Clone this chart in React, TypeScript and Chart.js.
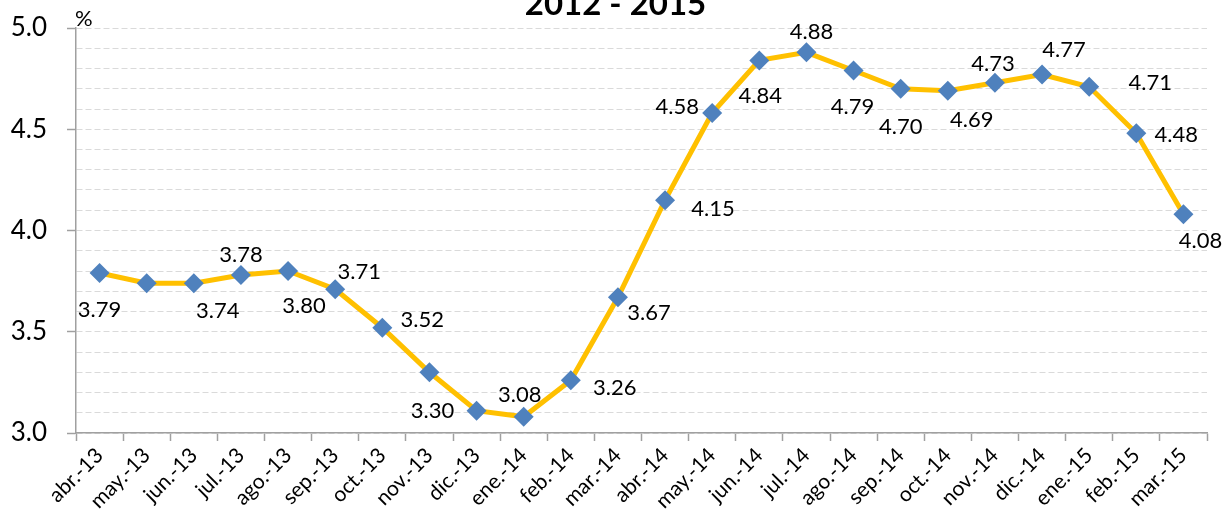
import React, { useEffect, useRef } from "react";
import { Chart, registerables } from "chart.js";

Chart.register(...registerables);

const FONT = "Lato, 'Noto Sans', sans-serif";

const titleText = "2012 - 2015";
const unitText = "%";

const categories = [
  "abr.-13", "may.-13", "jun.-13", "jul.-13", "ago.-13", "sep.-13", "oct.-13", "nov.-13",
  "dic.-13", "ene.-14", "feb.-14", "mar.-14", "abr.-14", "may.-14", "jun.-14", "jul.-14",
  "ago.-14", "sep.-14", "oct.-14", "nov.-14", "dic.-14", "ene.-15", "feb.-15", "mar.-15",
];

const rates = [
  3.79, 3.74, 3.74, 3.78, 3.80, 3.71, 3.52, 3.30,
  3.11, 3.08, 3.26, 3.67, 4.15, 4.58, 4.84, 4.88,
  4.79, 4.70, 4.69, 4.73, 4.77, 4.71, 4.48, 4.08,
];

// which points carry a value label
const labelShown = [
  true, false, true, true, true, true, true, true,
  false, true, true, true, true, true, true, true,
  true, true, true, true, true, true, true, true,
];

// label placement relative to its point (px)
const labelOffsets: [number, number][] = [
  [0, 37], [0, 0], [24, 28], [0, -20], [16, 35], [24, -17], [40, -8], [3, 39],
  [0, 0], [-4, -22], [44, 8], [31, 16], [48, 9], [-35, -6], [1, 36], [5, -20],
  [-1, 36], [0, 38], [24, 29], [-2, -19], [22, -25], [61, -4], [40, 2], [17, 27],
];

const yMin = 3.0;
const yMax = 5.0;
const yMinorStep = 0.1;
const yMajorStep = 0.5;

const isMajor = (v: number) => Math.abs(v / yMajorStep - Math.round(v / yMajorStep)) < 1e-6;

const overlayPlugin = {
  id: "overlay",
  afterDatasetsDraw(chart: any) {
    const ctx = chart.ctx;
    const meta = chart.getDatasetMeta(0);
    ctx.save();
    ctx.fillStyle = "#000";
    ctx.textAlign = "center";
    ctx.textBaseline = "middle";
    ctx.font = `22px ${FONT}`;
    meta.data.forEach((pt: any, i: number) => {
      if (!labelShown[i]) return;
      const [dx, dy] = labelOffsets[i];
      ctx.fillText(rates[i].toFixed(2), pt.x + dx, pt.y + dy);
    });
    // title (clipped at top as in the reference)
    ctx.font = `bold 33px ${FONT}`;
    ctx.textBaseline = "alphabetic";
    ctx.fillText(titleText, chart.width / 2, 15);
    // unit
    ctx.font = `22px ${FONT}`;
    ctx.textAlign = "left";
    ctx.fillText(unitText, chart.chartArea.left - 1, 26);
    ctx.restore();
  },
};

export default function App() {
  const canvasRef = useRef<HTMLCanvasElement | null>(null);

  useEffect(() => {
    if (!canvasRef.current) return;
    const chart = new Chart(canvasRef.current, {
      type: "line",
      data: {
        labels: categories,
        datasets: [
          {
            data: rates,
            borderColor: "#FFC000",
            borderWidth: 5,
            backgroundColor: "#4F81BD",
            pointStyle: "rectRot",
            pointRadius: 10,
            pointHoverRadius: 10,
            pointBackgroundColor: "#4F81BD",
            pointBorderColor: "#4F81BD",
            pointBorderWidth: 0,
            tension: 0,
          },
        ],
      },
      options: {
        animation: false,
        responsive: true,
        maintainAspectRatio: false,
        layout: { padding: { top: 28, right: 24, left: 0, bottom: 0 } },
        plugins: {
          legend: { display: false },
          title: { display: false },
          tooltip: { enabled: false },
        },
        scales: {
          x: {
            type: "category",
            offset: true,
            afterFit: (s: any) => {
              s.height = 77;
            },
            grid: {
              offset: true,
              drawOnChartArea: false,
              drawTicks: true,
              tickLength: 8,
              tickColor: "#a0a0a0",
              tickWidth: 1.5,
            },
            border: { display: true, color: "#a0a0a0", width: 1.5 },
            ticks: {
              autoSkip: false,
              maxRotation: 45,
              minRotation: 45,
              padding: 2,
              color: "#000",
              font: { family: FONT, size: 21 },
            },
          },
          y: {
            min: yMin,
            max: yMax,
            afterFit: (s: any) => {
              s.width = 76;
              s.paddingTop = 0;
              s.paddingBottom = 0;
            },
            grid: {
              color: () => "#dadada",
              lineWidth: 1,
              drawTicks: true,
              tickLength: 9,
              tickColor: (c: any) => (c.tick && isMajor(c.tick.value) ? "#a0a0a0" : "rgba(0,0,0,0)"),
              tickWidth: 1.5,
            },
            border: { display: true, color: "#a0a0a0", width: 1.5, dash: [6, 3] },
            ticks: {
              stepSize: yMinorStep,
              autoSkip: false,
              padding: 20,
              color: "#000",
              font: { family: FONT, size: 26 },
              callback: (v: any) => (isMajor(Number(v)) ? Number(v).toFixed(1) : ""),
            },
          },
        },
      },
      plugins: [overlayPlugin],
    });
    return () => chart.destroy();
  }, []);

  return (
    <div
      style={{
        position: "fixed",
        left: 0,
        top: 0,
        width: 1231,
        height: 510,
        background: "#fff",
      }}
    >
      <canvas ref={canvasRef} />
    </div>
  );
}
